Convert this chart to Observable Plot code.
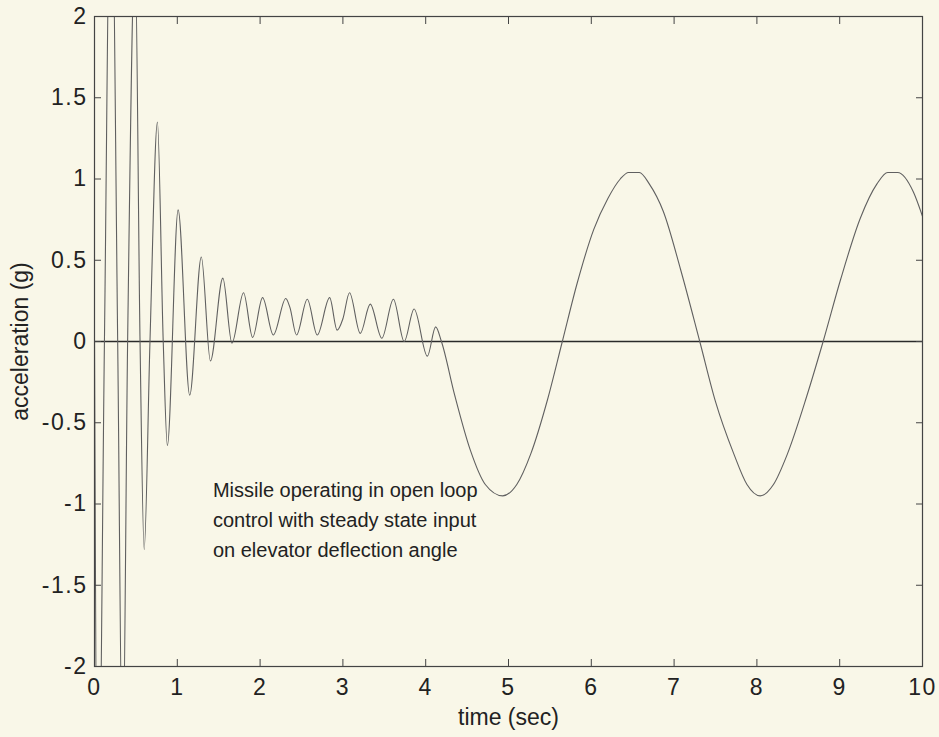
<!DOCTYPE html>
<html><head><meta charset="utf-8">
<script src="https://cdn.jsdelivr.net/npm/d3@7"></script>
<script src="https://cdn.jsdelivr.net/npm/@observablehq/plot@0.6"></script>
<style>
html,body{margin:0;padding:0;background:#f9f7e8;}
</style></head><body><div id="chart"></div>
<script>
// time (sec) samples
const time = [0, 0.04, 0.12, 0.20, 0.28, 0.34, 0.40, 0.49, 0.55, 0.60, 0.67, 0.76, 0.83, 0.88, 1.01, 1.15, 1.29, 1.40, 1.55, 1.66, 1.80, 1.91, 2.03, 2.16, 2.31, 2.36, 2.44, 2.57, 2.69, 2.84, 2.93, 3.00, 3.08, 3.21, 3.33, 3.47, 3.61, 3.74, 3.86, 4.02, 4.12, 4.19, 4.35, 4.54, 4.72, 4.93, 5.10, 5.27, 5.47, 5.65, 5.83, 6.03, 6.20, 6.35, 6.45, 6.58, 6.70, 6.87, 7.08, 7.31, 7.50, 7.72, 7.88, 8.04, 8.20, 8.37, 8.60, 8.80, 9.01, 9.25, 9.45, 9.58, 9.70, 9.89, 10.0];
// acceleration (g) values
const accel = [0, -3.4, 0, 3.2, 0, -2.7, 0, 2.4, 0, -1.28, 0, 1.35, 0, -0.64, 0.81, -0.33, 0.52, -0.12, 0.39, -0.01, 0.30, 0.025, 0.27, 0.04, 0.265, 0.21, 0.04, 0.26, 0.04, 0.27, 0.07, 0.14, 0.30, 0.05, 0.23, 0.02, 0.26, 0.00, 0.20, -0.09, 0.09, 0.0, -0.33, -0.67, -0.88, -0.95, -0.88, -0.69, -0.36, 0.0, 0.36, 0.69, 0.88, 1.00, 1.04, 1.04, 0.97, 0.80, 0.44, 0.0, -0.37, -0.69, -0.88, -0.95, -0.88, -0.69, -0.34, 0.0, 0.38, 0.76, 0.97, 1.04, 1.04, 0.92, 0.77];

const xTicks = [0, 1, 2, 3, 4, 5, 6, 7, 8, 9, 10];
const yTicks = [-2, -1.5, -1, -0.5, 0, 0.5, 1, 1.5, 2];
const xLabel = "time (sec)";
const yLabel = "acceleration (g)";
const noteText = "Missile operating in open loop\ncontrol with steady state input\non elevator deflection angle";
const notePos = {t: 1.43, a: -1.08};

const data = time.map((t, i) => ({t, a: accel[i]}));
const font = "'Liberation Sans', Arial, Helvetica, sans-serif";

const chart = Plot.plot({
  width: 939, height: 737,
  marginLeft: 94, marginRight: 17, marginTop: 16, marginBottom: 71,
  style: {background: "#f9f7e8", fontFamily: font, fontSize: "23px", color: "#222", overflow: "visible"},
  x: {domain: [0, 10]},
  y: {domain: [-2, 2]},
  marks: [
    Plot.ruleY([0], {stroke: "#2a2a2a", strokeWidth: 1.6}),
    Plot.line(data, {x: "t", y: "a", stroke: "#606060", strokeWidth: 1.1, curve: "monotone-x", clip: true}),
    Plot.frame({stroke: "#444", strokeWidth: 1.2}),
    Plot.axisX(xTicks, {anchor: "bottom", tickSize: 0, tickPadding: 12, label: null, tickFormat: d => String(d), fill: "#222"}),
    Plot.axisX(xTicks, {anchor: "bottom", tickSize: -7, tickFormat: () => "", label: null, stroke: "#444"}),
    Plot.axisX(xTicks, {anchor: "top", tickSize: -7, tickFormat: () => "", label: null, stroke: "#444"}),
    Plot.axisY(yTicks, {anchor: "left", tickSize: 0, tickPadding: 7, label: null, tickFormat: d => String(d), fill: "#222"}),
    Plot.axisY(yTicks, {anchor: "left", tickSize: -7, tickFormat: () => "", label: null, stroke: "#444"}),
    Plot.axisY(yTicks, {anchor: "right", tickSize: -7, tickFormat: () => "", label: null, stroke: "#444"}),
    Plot.text([xLabel], {frameAnchor: "bottom", dy: 58, fontSize: 23, fill: "#222", ariaLabel: "axis title"}),
    Plot.text([yLabel], {frameAnchor: "left", dx: -74, rotate: -90, textAnchor: "middle", fontSize: 23, fill: "#222", ariaLabel: "axis title"}),
    Plot.text([noteText], {x: () => notePos.t, y: () => notePos.a, textAnchor: "start", lineAnchor: "middle", lineHeight: 1.5, fontSize: 20, fill: "#222", ariaLabel: "note"})
  ]
});
d3.select(chart).selectAll('g[aria-label="x-axis tick label"], g[aria-label="y-axis tick label"]').attr("letter-spacing", "1.5px");
d3.select(chart).selectAll('g[aria-label="axis title"]').attr("letter-spacing", "1px");
document.getElementById("chart").appendChild(chart);
</script></body></html>
